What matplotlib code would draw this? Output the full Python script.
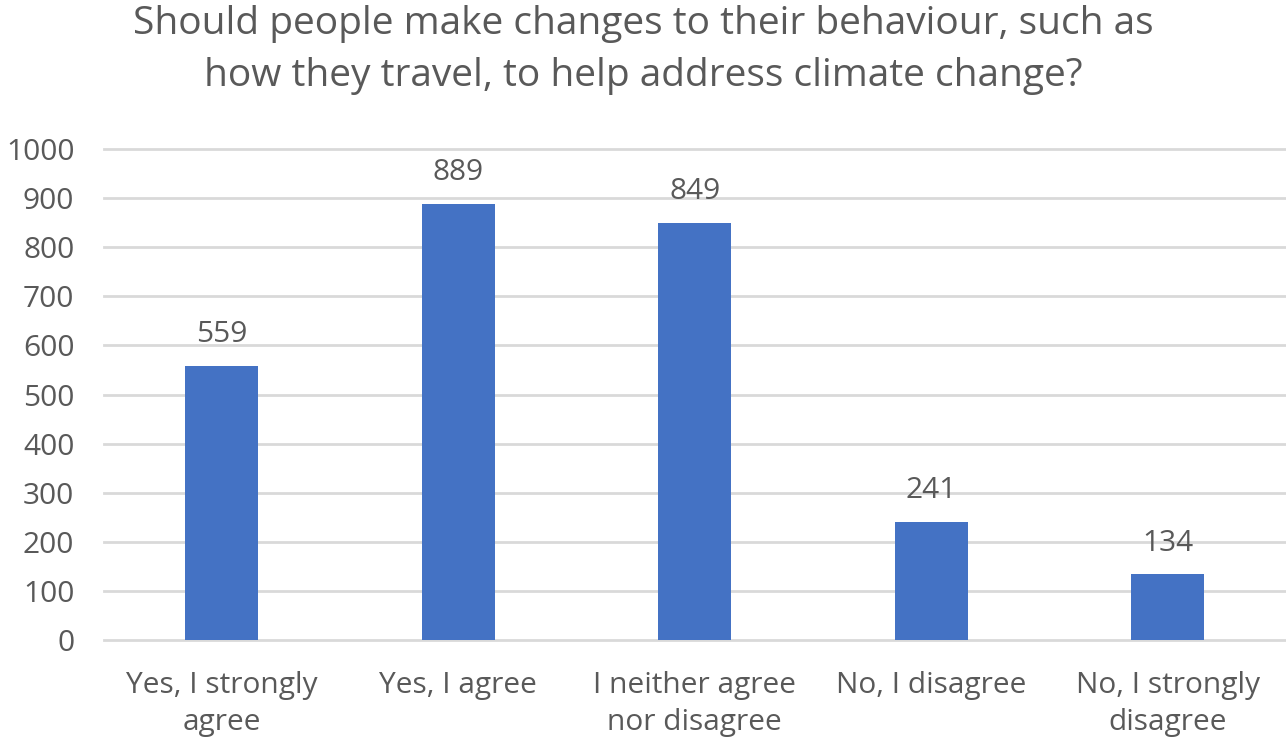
import matplotlib
matplotlib.use("Agg")
import matplotlib.pyplot as plt

plt.rcParams['font.family'] = ['Open Sans', 'DejaVu Sans']

categories = ["Yes, I strongly\nagree", "Yes, I agree", "I neither agree\nnor disagree",
              "No, I disagree", "No, I strongly\ndisagree"]
counts = [559, 889, 849, 241, 134]
yticks = [0, 100, 200, 300, 400, 500, 600, 700, 800, 900, 1000]
title = "Should people make changes to their behaviour, such as\nhow they travel, to help address climate change?"

txt = "#595959"
fig = plt.figure(figsize=(12.86, 7.41), dpi=100)
ax = fig.add_axes([103.5 / 1286, 1 - 640 / 741, 1 - 103.5 / 1286, 491 / 741])

x = range(len(categories))
bars = ax.bar(x, counts, width=0.31, color="#4472C4", zorder=3)

for xi, v in zip(x, counts):
    ax.annotate(str(v), (xi, v), xytext=(0, 12), textcoords="offset points",
                ha="center", va="bottom", fontsize=21.5, color=txt)

ax.set_xlim(-0.5, len(categories) - 0.5)
ax.set_ylim(0, 1000)
ax.set_yticks(yticks)
ax.set_xticks(list(x))
ax.set_xticklabels(categories, fontsize=21.5, color=txt, linespacing=1.4)
ax.tick_params(axis="y", labelsize=21.5, labelcolor=txt, length=0, pad=21)
ax.tick_params(axis="x", length=0, pad=22)
ax.grid(axis="y", color="#D9D9D9", linewidth=2, zorder=0)
for s in ax.spines.values():
    s.set_visible(False)
for gl in ax.get_ygridlines():
    gl.set_clip_on(False)

fig.text(0.5, 1 - 50 / 741, title, ha="center", va="center", fontsize=28,
         color=txt, linespacing=1.48)

fig.savefig("out.png", dpi=100)
